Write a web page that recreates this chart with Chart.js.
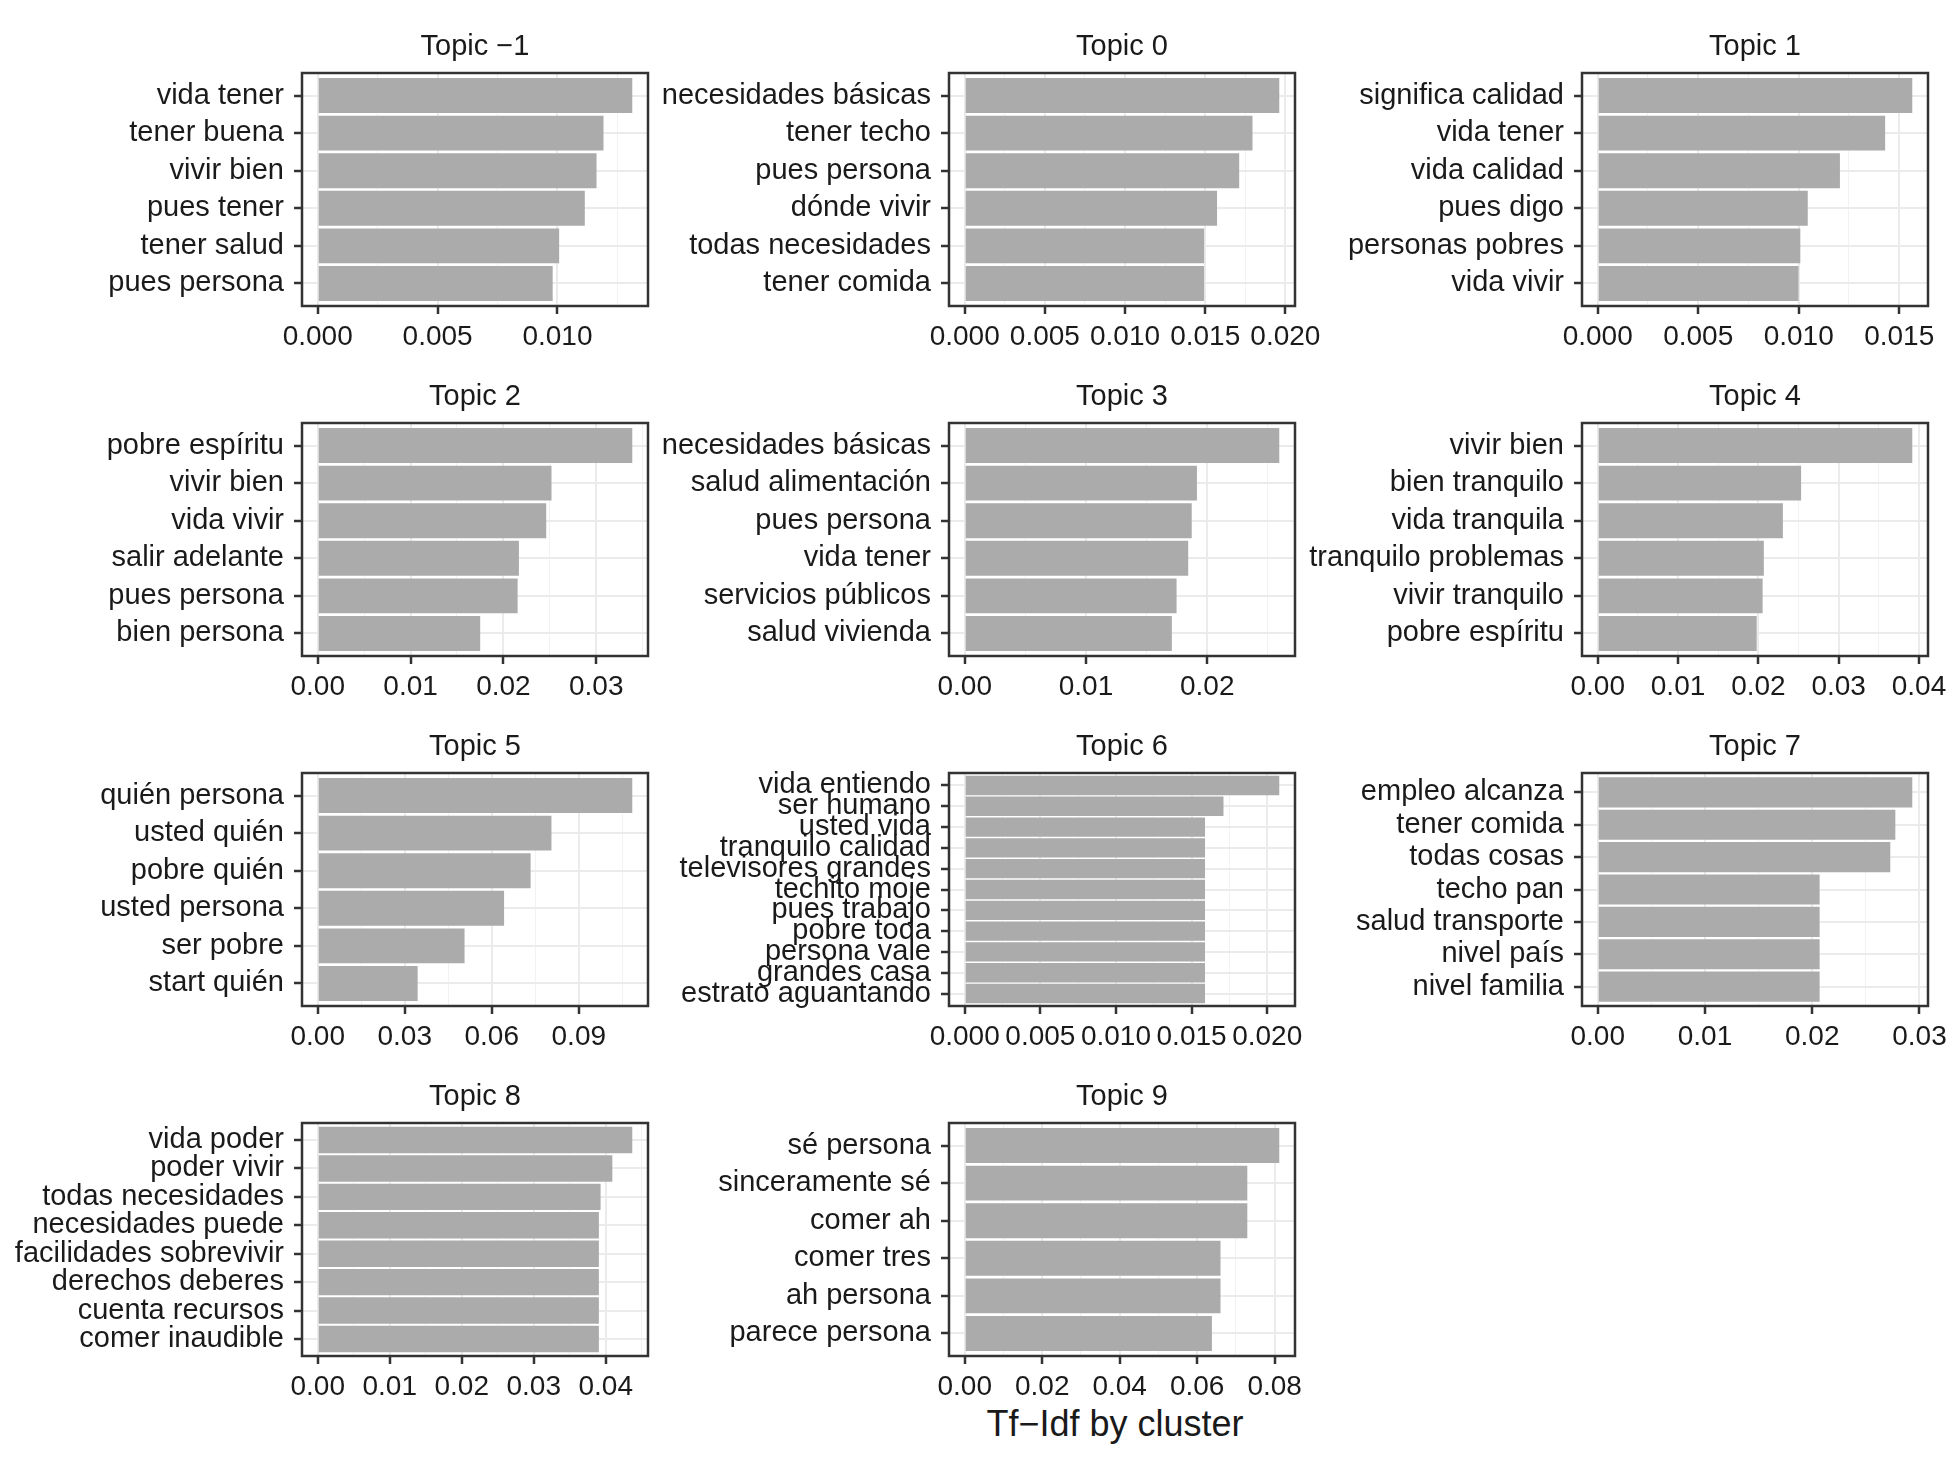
<!DOCTYPE html>
<html>
<head>
<meta charset="utf-8">
<script src="https://cdn.jsdelivr.net/npm/chart.js@4.4.1/dist/chart.umd.min.js"></script>
<style>
html, body { margin:0; padding:0; background:#ffffff; width:1946px; height:1460px; overflow:hidden; position:relative; }
canvas { position:absolute; }
#xtitle { position:absolute; left:1115px; top:1424px; transform:translate(-50%,-50%);
  font-family:"Liberation Sans", Arial, Helvetica, sans-serif; font-size:36px; color:#1a1a1a; white-space:nowrap; line-height:1; }
</style>
</head>
<body>
<div id="xtitle">Tf−Idf by cluster</div>
<script>
// ---------------- DATA ----------------
const topicNames = ["Topic \u22121", "Topic 0", "Topic 1", "Topic 2", "Topic 3", "Topic 4",
                    "Topic 5", "Topic 6", "Topic 7", "Topic 8", "Topic 9"];

const termsTopicM1 = ["vida tener", "tener buena", "vivir bien", "pues tener", "tener salud", "pues persona"];
const tfidfTopicM1 = [0.01312, 0.01192, 0.01163, 0.01114, 0.01007, 0.00980];
const ticksTopicM1 = [0, 0.005, 0.010];
const tickLabelsTopicM1 = ["0.000", "0.005", "0.010"];

const termsTopic0 = ["necesidades básicas", "tener techo", "pues persona", "dónde vivir", "todas necesidades", "tener comida"];
const tfidfTopic0 = [0.01962, 0.01795, 0.01712, 0.01574, 0.01493, 0.01493];
const ticksTopic0 = [0, 0.005, 0.010, 0.015, 0.020];
const tickLabelsTopic0 = ["0.000", "0.005", "0.010", "0.015", "0.020"];

const termsTopic1 = ["significa calidad", "vida tener", "vida calidad", "pues digo", "personas pobres", "vida vivir"];
const tfidfTopic1 = [0.01565, 0.01430, 0.01205, 0.01045, 0.01008, 0.00999];
const ticksTopic1 = [0, 0.005, 0.010, 0.015];
const tickLabelsTopic1 = ["0.000", "0.005", "0.010", "0.015"];

const termsTopic2 = ["pobre espíritu", "vivir bien", "vida vivir", "salir adelante", "pues persona", "bien persona"];
const tfidfTopic2 = [0.03388, 0.02518, 0.02461, 0.02167, 0.02153, 0.01750];
const ticksTopic2 = [0, 0.01, 0.02, 0.03];
const tickLabelsTopic2 = ["0.00", "0.01", "0.02", "0.03"];

const termsTopic3 = ["necesidades básicas", "salud alimentación", "pues persona", "vida tener", "servicios públicos", "salud vivienda"];
const tfidfTopic3 = [0.02594, 0.01915, 0.01872, 0.01843, 0.01747, 0.01708];
const ticksTopic3 = [0, 0.01, 0.02];
const tickLabelsTopic3 = ["0.00", "0.01", "0.02"];

const termsTopic4 = ["vivir bien", "bien tranquilo", "vida tranquila", "tranquilo problemas", "vivir tranquilo", "pobre espíritu"];
const tfidfTopic4 = [0.03916, 0.02532, 0.02305, 0.02068, 0.02053, 0.01979];
const ticksTopic4 = [0, 0.01, 0.02, 0.03, 0.04];
const tickLabelsTopic4 = ["0.00", "0.01", "0.02", "0.03", "0.04"];

const termsTopic5 = ["quién persona", "usted quién", "pobre quién", "usted persona", "ser pobre", "start quién"];
const tfidfTopic5 = [0.10844, 0.08058, 0.07339, 0.06425, 0.05062, 0.03445];
const ticksTopic5 = [0, 0.03, 0.06, 0.09];
const tickLabelsTopic5 = ["0.00", "0.03", "0.06", "0.09"];

const termsTopic6 = ["vida entiendo", "ser humano", "usted vida", "tranquilo calidad", "televisores grandes", "techito moje",
                     "pues trabajo", "pobre toda", "persona vale", "grandes casa", "estrato aguantando"];
const tfidfTopic6 = [0.02080, 0.01711, 0.01589, 0.01589, 0.01589, 0.01589, 0.01589, 0.01589, 0.01589, 0.01589, 0.01589];
const ticksTopic6 = [0, 0.005, 0.010, 0.015, 0.020];
const tickLabelsTopic6 = ["0.000", "0.005", "0.010", "0.015", "0.020"];

const termsTopic7 = ["empleo alcanza", "tener comida", "todas cosas", "techo pan", "salud transporte", "nivel país", "nivel familia"];
const tfidfTopic7 = [0.02933, 0.02775, 0.02728, 0.02069, 0.02069, 0.02069, 0.02069];
const ticksTopic7 = [0, 0.01, 0.02, 0.03];
const tickLabelsTopic7 = ["0.00", "0.01", "0.02", "0.03"];

const termsTopic8 = ["vida poder", "poder vivir", "todas necesidades", "necesidades puede", "facilidades sobrevivir",
                     "derechos deberes", "cuenta recursos", "comer inaudible"];
const tfidfTopic8 = [0.04369, 0.04092, 0.03929, 0.03905, 0.03905, 0.03905, 0.03905, 0.03905];
const ticksTopic8 = [0, 0.01, 0.02, 0.03, 0.04];
const tickLabelsTopic8 = ["0.00", "0.01", "0.02", "0.03", "0.04"];

const termsTopic9 = ["sé persona", "sinceramente sé", "comer ah", "comer tres", "ah persona", "parece persona"];
const tfidfTopic9 = [0.08120, 0.07295, 0.07295, 0.06603, 0.06603, 0.06381];
const ticksTopic9 = [0, 0.02, 0.04, 0.06, 0.08];
const tickLabelsTopic9 = ["0.00", "0.02", "0.04", "0.06", "0.08"];

// ---------------- LAYOUT ----------------
const COL_LEFT = [302, 949, 1582];
const ROW_TOP = [73, 423, 773, 1123];
const BOX_W = 346, BOX_H = 233;
const AXW = 300, PADT = 60, PADR = 44, AXH = 60;
const TEXT = '#1a1a1a';
const FONT = '"Liberation Sans", Arial, Helvetica, sans-serif';

Chart.defaults.font.family = FONT;
Chart.defaults.color = TEXT;

const panels = [
  [termsTopicM1, tfidfTopicM1, ticksTopicM1, tickLabelsTopicM1],
  [termsTopic0, tfidfTopic0, ticksTopic0, tickLabelsTopic0],
  [termsTopic1, tfidfTopic1, ticksTopic1, tickLabelsTopic1],
  [termsTopic2, tfidfTopic2, ticksTopic2, tickLabelsTopic2],
  [termsTopic3, tfidfTopic3, ticksTopic3, tickLabelsTopic3],
  [termsTopic4, tfidfTopic4, ticksTopic4, tickLabelsTopic4],
  [termsTopic5, tfidfTopic5, ticksTopic5, tickLabelsTopic5],
  [termsTopic6, tfidfTopic6, ticksTopic6, tickLabelsTopic6],
  [termsTopic7, tfidfTopic7, ticksTopic7, tickLabelsTopic7],
  [termsTopic8, tfidfTopic8, ticksTopic8, tickLabelsTopic8],
  [termsTopic9, tfidfTopic9, ticksTopic9, tickLabelsTopic9]
];

function makePanel(idx) {
  const [terms, values, ticks, tickLabels] = panels[idx];
  const title = topicNames[idx];
  const c = idx % 3, r = Math.floor(idx / 3);
  const cv = document.createElement('canvas');
  const w = AXW + BOX_W + PADR, h = PADT + BOX_H + AXH;
  cv.width = w; cv.height = h;
  cv.style.width = w + 'px'; cv.style.height = h + 'px';
  cv.style.left = (COL_LEFT[c] - AXW) + 'px';
  cv.style.top = (ROW_TOP[r] - PADT) + 'px';
  document.body.appendChild(cv);

  const vmax = Math.max(...values);
  const xmin = -0.05 * vmax, xmax = 1.05 * vmax;
  const step = ticks[1] - ticks[0];
  const xTickObjs = ticks.map((v, i) => ({ value: v, lbl: tickLabels[i], isMinor: false }));
  ticks.forEach(v => { const m = v + step / 2; if (m <= xmax) xTickObjs.push({ value: m, lbl: '', isMinor: true }); });
  if (ticks[0] - step / 2 >= xmin) xTickObjs.push({ value: ticks[0] - step / 2, lbl: '', isMinor: true });
  xTickObjs.sort((a, b) => a.value - b.value);
  const n = terms.length;

  new Chart(cv, {
    type: 'bar',
    data: {
      datasets: [{
        data: terms.map((t, i) => ({ x: values[i], y: i })),
        backgroundColor: '#ABABAB',
        borderWidth: 0,
        barPercentage: 0.93,
        categoryPercentage: 1
      }]
    },
    options: {
      responsive: false,
      animation: false,
      indexAxis: 'y',
      layout: { padding: { top: PADT, right: PADR, left: 0, bottom: 0 } },
      plugins: { legend: { display: false }, tooltip: { enabled: false }, title: { display: false } },
      scales: {
        x: {
          type: 'linear', min: xmin, max: xmax, bounds: 'data', offset: false,
          afterBuildTicks: (ax) => { ax.ticks = xTickObjs.map(o => ({ value: o.value, lbl: o.lbl, isMinor: o.isMinor })); },
          afterFit: (ax) => { ax.height = AXH; },
          border: { display: false },
          grid: {
            offset: false,
            color: (ctx) => (ctx.tick && ctx.tick.isMinor) ? '#F2F2F2' : '#EBEBEB',
            lineWidth: (ctx) => (ctx.tick && ctx.tick.isMinor) ? 1 : 2,
            tickColor: (ctx) => (ctx.tick && ctx.tick.isMinor) ? 'rgba(0,0,0,0)' : '#333333',
            tickWidth: 2.5,
            tickLength: 8
          },
          ticks: {
            autoSkip: false, maxRotation: 0, minRotation: 0, padding: 6,
            font: { size: 28 }, color: TEXT,
            callback: (v, i, tks) => tks[i].lbl
          }
        },
        y: {
          type: 'linear', reverse: true, min: -0.6, max: n - 1 + 0.6, bounds: 'data', offset: false,
          afterBuildTicks: (ax) => { ax.ticks = terms.map((t, i) => ({ value: i })); },
          afterFit: (ax) => { ax.width = AXW; },
          border: { display: false },
          grid: { offset: false, color: '#EBEBEB', lineWidth: 2, tickColor: '#333333', tickWidth: 2.5, tickLength: 8 },
          ticks: {
            autoSkip: false, padding: 10, font: { size: 29 }, color: TEXT,
            callback: (v) => terms[Math.round(v)]
          }
        }
      }
    },
    plugins: [{
      id: 'panelDeco',
      afterDatasetsDraw(chart) {
        const a = chart.chartArea, ctx = chart.ctx;
        ctx.save();
        ctx.strokeStyle = '#333333';
        ctx.lineWidth = 2.5;
        ctx.strokeRect(a.left, a.top, a.right - a.left, a.bottom - a.top);
        ctx.fillStyle = TEXT;
        ctx.font = '29px ' + FONT;
        ctx.textAlign = 'center';
        ctx.textBaseline = 'middle';
        ctx.fillText(title, (a.left + a.right) / 2, a.top - 26);
        ctx.restore();
      }
    }]
  });
}

for (let i = 0; i < panels.length; i++) makePanel(i);
</script>
</body>
</html>
